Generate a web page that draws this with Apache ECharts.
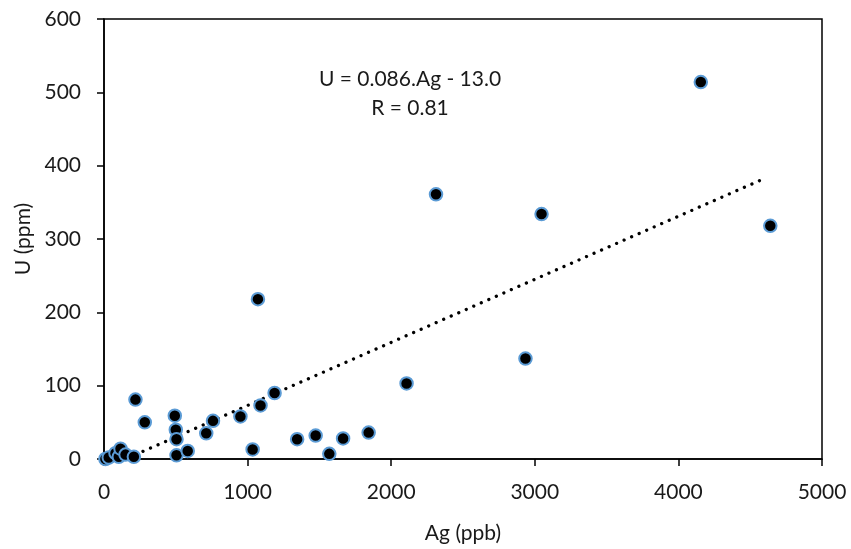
<!DOCTYPE html>
<html>
<head>
<meta charset="utf-8">
<script src="https://cdn.jsdelivr.net/npm/echarts@6/dist/echarts.min.js"></script>
<style>html,body{margin:0;padding:0;background:#fff}#c{width:851px;height:549px}</style>
</head>
<body>
<div id="c"></div>
<script>
// Ag (ppb) values
const agValues = [10, 33, 80, 103, 115, 150, 208, 219, 284, 493, 500, 505, 505, 583, 712, 759, 950, 1035, 1072, 1090, 1188, 1345, 1474, 1569, 1665, 1843, 2107, 2312, 2935, 3047, 4156, 4640];
// U (ppm) values
const uValues  = [0, 2, 8, 3, 14, 6, 3, 81, 50, 59, 40, 27, 5, 11, 35, 52, 58, 13, 218, 73, 90, 27, 32, 7, 28, 36, 103, 361, 137, 334, 514, 318];
// linear trend endpoints as drawn (U = 0.086.Ag - 13.0)
const trendAg = [10, 4600];
const trendU  = [-12.1, 382.6];
const xTicks = [0, 1000, 2000, 3000, 4000, 5000];
const yTicks = [0, 100, 200, 300, 400, 500, 600];
const eqLines = ['U = 0.086.Ag - 13.0', 'R = 0.81'];

const FONT = 'Lato';
const chart = echarts.init(document.getElementById('c'), null, {renderer: 'canvas'});
const points = agValues.map((a, i) => [a, uValues[i]]);
const trend = trendAg.map((a, i) => [a, trendU[i]]);

chart.setOption({
  animation: false,
  backgroundColor: '#fff',
  grid: {left: 104, right: 29, top: 19, bottom: 90, show: true, borderColor: '#000', borderWidth: 1.5, backgroundColor: 'transparent'},
  xAxis: {
    type: 'value', min: xTicks[0], max: xTicks[xTicks.length - 1], interval: 1000,
    name: 'Ag (ppb)', nameLocation: 'middle', nameGap: 64,
    nameTextStyle: {fontFamily: FONT, fontSize: 21, color: '#1a1a1a'},
    axisLine: {show: true, lineStyle: {color: '#000', width: 1.5}},
    axisTick: {show: true, inside: false, length: 7, lineStyle: {color: '#000', width: 1.5}},
    axisLabel: {fontFamily: FONT, fontSize: 21, color: '#1a1a1a', margin: 23, formatter: v => String(v)},
    splitLine: {show: false}
  },
  yAxis: {
    type: 'value', min: yTicks[0], max: yTicks[yTicks.length - 1], interval: 100,
    name: 'U (ppm)', nameLocation: 'middle', nameGap: 60,
    nameTextStyle: {fontFamily: FONT, fontSize: 21, color: '#1a1a1a'},
    axisLine: {show: true, lineStyle: {color: '#000', width: 1.5}},
    axisTick: {show: true, inside: false, length: 7, lineStyle: {color: '#000', width: 1.5}},
    axisLabel: {fontFamily: FONT, fontSize: 21, color: '#1a1a1a', margin: 23, formatter: v => String(v)},
    splitLine: {show: false}
  },
  series: [
    {
      type: 'line', data: trend, clip: true, symbol: 'none', z: 2,
      lineStyle: {color: '#000', width: 3.3, type: [0.01, 8.2], cap: 'round'}
    },
    {
      type: 'scatter', data: points, clip: false, symbol: 'circle', symbolSize: 12.5, z: 3,
      itemStyle: {color: '#000', borderColor: '#5b9bd5', borderWidth: 2, opacity: 1}
    }
  ],
  graphic: eqLines.map((t, i) => ({
    type: 'text', x: 410, y: 79 + i * 29.5, z: 10,
    style: {text: t, x: 0, y: 0, align: 'center', verticalAlign: 'middle', font: '21px ' + FONT, fill: '#1a1a1a'}
  }))
});
</script>
</body>
</html>
